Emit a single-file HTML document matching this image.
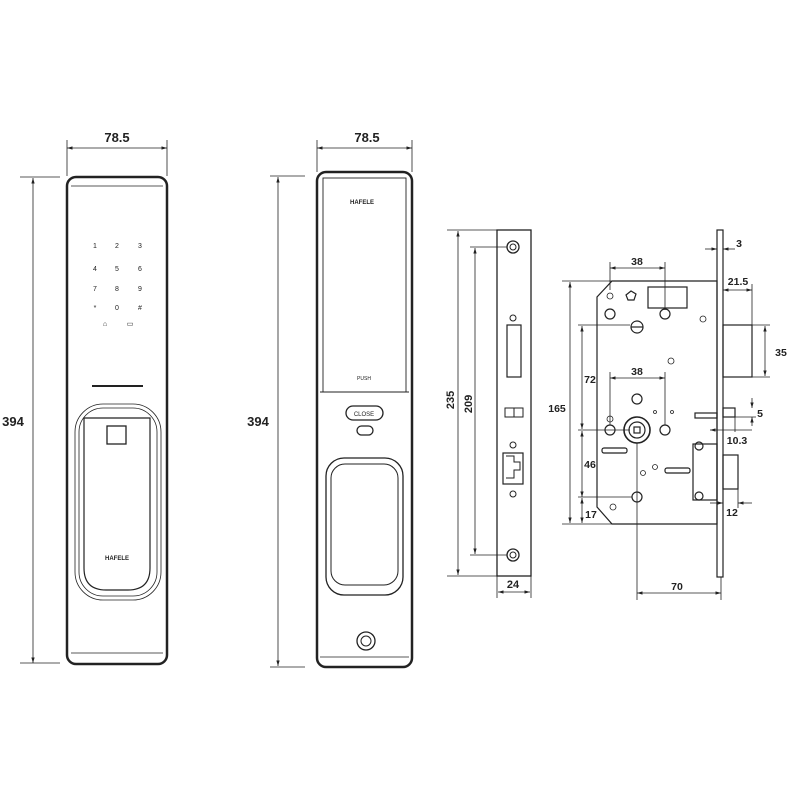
<!DOCTYPE html>
<html><head><meta charset="utf-8"><style>
html,body{margin:0;padding:0;background:#fff}
svg{display:block}
text{font-family:"Liberation Sans",sans-serif;fill:#222}
</style></head><body>
<svg width="800" height="800" viewBox="0 0 800 800" xmlns="http://www.w3.org/2000/svg">
<defs>
<marker id="a" viewBox="0 0 10 10" refX="10" refY="5" markerWidth="7" markerHeight="7" orient="auto-start-reverse"><path d="M0,2 L10,5 L0,8 z" fill="#222"/></marker>
</defs>
<g stroke="#222" fill="none" stroke-width="0.8">
<!-- Panel 1 dims -->
<line x1="67" y1="140" x2="67" y2="176"/><line x1="167" y1="140" x2="167" y2="176"/>
<line x1="67" y1="148" x2="167" y2="148" marker-start="url(#a)" marker-end="url(#a)"/>
<line x1="20" y1="177" x2="60" y2="177"/><line x1="20" y1="663" x2="60" y2="663"/>
<line x1="33" y1="178" x2="33" y2="663" marker-start="url(#a)" marker-end="url(#a)"/>
<!-- Panel 2 dims -->
<line x1="317" y1="140" x2="317" y2="172"/><line x1="412" y1="140" x2="412" y2="172"/>
<line x1="317" y1="148" x2="412" y2="148" marker-start="url(#a)" marker-end="url(#a)"/>
<line x1="270" y1="176" x2="305" y2="176"/><line x1="270" y1="667" x2="305" y2="667"/>
<line x1="278" y1="177" x2="278" y2="666" marker-start="url(#a)" marker-end="url(#a)"/>
</g>
<!-- Panel 1 -->
<g stroke="#222" fill="none">
<rect x="67" y="177" width="100" height="487" rx="9" stroke-width="2.5"/>
<line x1="71" y1="186" x2="163" y2="186" stroke-width="0.8"/>
<line x1="71" y1="653" x2="163" y2="653" stroke-width="0.8"/>
<line x1="92" y1="386" x2="143" y2="386" stroke-width="2"/>
<rect x="75" y="404" width="86" height="196" rx="28" stroke-width="0.8"/>
<rect x="79" y="408" width="78" height="188" rx="24" stroke-width="0.8"/>
<path d="M84 418 H150 V568 Q150 590 128 590 H106 Q84 590 84 568 Z" stroke-width="1.2"/>
<rect x="107" y="426" width="19" height="18" stroke-width="1.3"/>
</g>
<g font-size="7" text-anchor="middle" fill="#444">
<text x="95" y="248">1</text><text x="117" y="248">2</text><text x="140" y="248">3</text>
<text x="95" y="271">4</text><text x="117" y="271">5</text><text x="140" y="271">6</text>
<text x="95" y="291">7</text><text x="117" y="291">8</text><text x="140" y="291">9</text>
<text x="95" y="310">*</text><text x="117" y="310">0</text><text x="140" y="310">#</text>
<text x="105" y="326">⌂</text><text x="130" y="326">▭</text>
</g>
<text x="117" y="560" font-size="6" font-weight="bold" text-anchor="middle">HAFELE</text>
<!-- Panel 2 -->
<g stroke="#222" fill="none">
<rect x="317" y="172" width="95" height="495" rx="9" stroke-width="2.5"/>
<rect x="323" y="178" width="83" height="214" stroke-width="0.9"/>
<line x1="320" y1="392" x2="409" y2="392" stroke-width="0.9"/>
<line x1="320" y1="657" x2="409" y2="657" stroke-width="0.8"/>
<rect x="346" y="406" width="37" height="14" rx="7" stroke-width="1.3"/>
<rect x="357" y="426" width="16" height="9" rx="4.5" stroke-width="1.3"/>
<rect x="326" y="458" width="77" height="137" rx="18" stroke-width="1.3"/>
<rect x="331" y="464" width="67" height="121" rx="14" stroke-width="1"/>
<circle cx="366" cy="641" r="9" stroke-width="1.3"/>
<circle cx="366" cy="641" r="5" stroke-width="1"/>
</g>
<text x="362" y="204" font-size="6" font-weight="bold" text-anchor="middle">HAFELE</text>
<text x="364" y="380" font-size="5" text-anchor="middle">PUSH</text>
<text x="364" y="416" font-size="6" text-anchor="middle">CLOSE</text>
<!-- big labels -->
<g font-weight="bold" font-size="13" text-anchor="middle">
<text x="117" y="142">78.5</text><text x="367" y="142">78.5</text>
<text x="13" y="426">394</text><text x="258" y="426">394</text>
</g>
<!-- Faceplate -->
<g stroke="#222" fill="none" stroke-width="0.8">
<line x1="447" y1="230" x2="497" y2="230"/><line x1="447" y1="576" x2="497" y2="576"/>
<line x1="458" y1="231" x2="458" y2="575" marker-start="url(#a)" marker-end="url(#a)"/>
<line x1="470" y1="247" x2="507" y2="247"/><line x1="470" y1="555" x2="507" y2="555"/>
<line x1="475" y1="248" x2="475" y2="554" marker-start="url(#a)" marker-end="url(#a)"/>
<line x1="497" y1="576" x2="497" y2="598"/><line x1="531" y1="576" x2="531" y2="598"/>
<line x1="498" y1="592" x2="530" y2="592" marker-start="url(#a)" marker-end="url(#a)"/>
</g>
<g stroke="#222" fill="none">
<rect x="497" y="230" width="34" height="346" stroke-width="1.3"/>
<circle cx="513" cy="247" r="6" stroke-width="1.3"/><circle cx="513" cy="247" r="3"/>
<circle cx="513" cy="555" r="6" stroke-width="1.3"/><circle cx="513" cy="555" r="3"/>
<circle cx="513" cy="318" r="3"/><circle cx="513" cy="445" r="3"/><circle cx="513" cy="494" r="3"/>
<rect x="507" y="325" width="14" height="52" stroke-width="1.2"/>
<rect x="505" y="408" width="18" height="9"/><line x1="514" y1="408" x2="514" y2="417"/>
<rect x="503" y="453" width="20" height="31" stroke-width="1.2"/>
<path d="M506 456 h8 v6 h6 v8 h-6 v8 h-8" />
</g>
<g font-weight="bold" font-size="11" text-anchor="middle">
<text transform="translate(454,400) rotate(-90)">235</text>
<text transform="translate(472,404) rotate(-90)">209</text>
<text x="513" y="588">24</text>
</g>
<!-- Lock body -->
<g stroke="#222" fill="none" stroke-width="1.2">
<path d="M612 281 H717 V524 H612 L597 507 V297 Z"/>
<rect x="717" y="230" width="6" height="347"/>
<rect x="723" y="325" width="29" height="52"/>
<rect x="648" y="287" width="39" height="21"/>
<path d="M626 295 l5 -4 l5 3 l-2 6 l-6 0 z"/>
<circle cx="610" cy="314" r="5"/><circle cx="665" cy="314" r="5"/>
<circle cx="637" cy="327" r="6"/><line x1="631" y1="327" x2="643" y2="327"/>
<circle cx="637" cy="430" r="13" stroke-width="1.6"/><circle cx="637" cy="430" r="8"/>
<rect x="634" y="427" width="6" height="6"/>
<circle cx="610" cy="430" r="5"/><circle cx="665" cy="430" r="5"/>
<circle cx="637" cy="399" r="5"/><circle cx="637" cy="497" r="5"/>
<rect x="602" y="448" width="25" height="5" rx="2"/>
<rect x="665" y="468" width="25" height="5" rx="2"/>
<rect x="693" y="444" width="24" height="56"/>
<circle cx="699" cy="446" r="4"/><circle cx="699" cy="496" r="4"/>
<rect x="723" y="455" width="15" height="34"/>
<rect x="695" y="413" width="22" height="5"/>
<rect x="723" y="408" width="12" height="9"/>
</g>
<g stroke="#222" fill="none" stroke-width="0.8">
<circle cx="610" cy="296" r="3"/><circle cx="703" cy="319" r="3"/><circle cx="671" cy="361" r="3"/>
<circle cx="610" cy="419" r="3"/><circle cx="613" cy="507" r="3"/>
<circle cx="655" cy="467" r="2.5"/><circle cx="643" cy="473" r="2.5"/>
<circle cx="655" cy="412" r="1.5"/><circle cx="672" cy="412" r="1.5"/>
<!-- dims -->
<line x1="705" y1="249" x2="717" y2="249" marker-end="url(#a)"/>
<line x1="735" y1="249" x2="723" y2="249" marker-end="url(#a)"/>
<line x1="610" y1="262" x2="610" y2="290"/><line x1="665" y1="262" x2="665" y2="310"/>
<line x1="610" y1="268" x2="665" y2="268" marker-start="url(#a)" marker-end="url(#a)"/>
<line x1="610" y1="372" x2="610" y2="425"/><line x1="665" y1="372" x2="665" y2="425"/>
<line x1="610" y1="378" x2="665" y2="378" marker-start="url(#a)" marker-end="url(#a)"/>
<line x1="723" y1="290" x2="752" y2="290" marker-start="url(#a)" marker-end="url(#a)"/>
<line x1="752" y1="284" x2="752" y2="325"/>
<line x1="752" y1="325" x2="770" y2="325"/><line x1="752" y1="377" x2="770" y2="377"/>
<line x1="765" y1="326" x2="765" y2="376" marker-start="url(#a)" marker-end="url(#a)"/>
<line x1="562" y1="281" x2="612" y2="281"/><line x1="562" y1="524" x2="612" y2="524"/>
<line x1="570" y1="282" x2="570" y2="523" marker-start="url(#a)" marker-end="url(#a)"/>
<line x1="578" y1="325" x2="630" y2="325"/><line x1="578" y1="430" x2="630" y2="430"/>
<line x1="582" y1="326" x2="582" y2="429" marker-start="url(#a)" marker-end="url(#a)"/>
<line x1="582" y1="431" x2="582" y2="497" marker-start="url(#a)" marker-end="url(#a)"/>
<line x1="578" y1="497" x2="632" y2="497"/>
<line x1="582" y1="498" x2="582" y2="523" marker-start="url(#a)" marker-end="url(#a)"/>
<line x1="752" y1="398" x2="752" y2="408" marker-end="url(#a)"/>
<line x1="752" y1="426" x2="752" y2="417" marker-end="url(#a)"/>
<line x1="735" y1="417" x2="756" y2="417"/>
<line x1="710" y1="430" x2="752" y2="430" marker-start="url(#a)"/>
<line x1="735" y1="417" x2="735" y2="432"/>
<line x1="710" y1="503" x2="723" y2="503" marker-end="url(#a)"/>
<line x1="752" y1="503" x2="738" y2="503" marker-end="url(#a)"/>
<line x1="738" y1="489" x2="738" y2="508"/>
<line x1="637" y1="443" x2="637" y2="600"/><line x1="721" y1="577" x2="721" y2="600"/>
<line x1="637" y1="593" x2="721" y2="593" marker-start="url(#a)" marker-end="url(#a)"/>
</g>
<g font-weight="bold" font-size="10.5" text-anchor="middle">
<text x="739" y="247">3</text>
<text x="637" y="265">38</text>
<text x="637" y="375">38</text>
<text x="738" y="285">21.5</text>
<text x="781" y="356">35</text>
<text x="557" y="412">165</text>
<text x="590" y="383">72</text>
<text x="590" y="468">46</text>
<text x="591" y="518">17</text>
<text x="760" y="417">5</text>
<text x="737" y="444">10.3</text>
<text x="732" y="516">12</text>
<text x="677" y="590">70</text>
</g>
</svg>
</body></html>
